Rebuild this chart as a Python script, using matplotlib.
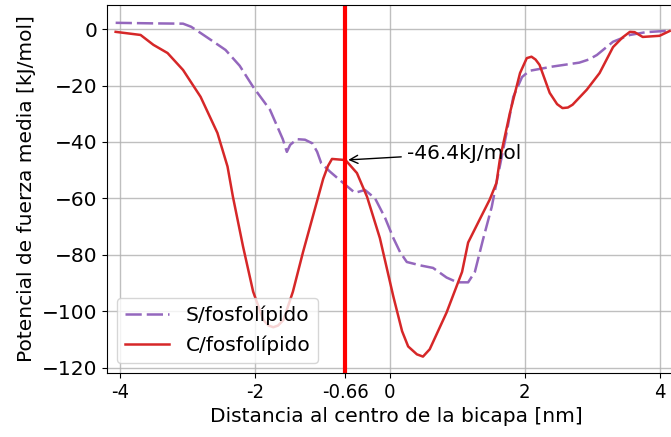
import matplotlib
matplotlib.use("Agg")
import matplotlib.pyplot as plt

# Potential of mean force profiles across the bilayer
x_s = [-4.07, -3.5, -3.07, -2.95, -2.81, -2.63, -2.44, -2.23, -2.03, -1.78, -1.59, -1.53,
       -1.48, -1.38, -1.26, -1.15, -1.08, -1.02, -0.89, -0.67, -0.52, -0.37, -0.22,
       -0.07, 0.05, 0.15, 0.25, 0.47, 0.64, 0.84, 1.0, 1.16, 1.26, 1.38, 1.51, 1.58,
       1.73, 1.83, 1.96, 2.07, 2.41, 2.81, 2.95, 3.07, 3.31, 3.56, 3.8, 4.15]
y_s = [2.2, 2.0, 1.9, 0.8, -1.4, -4.3, -7.4, -13.0, -20.5, -28.6, -39.0, -43.5,
       -41.0, -39.0, -39.2, -40.5, -43.5, -47.5, -50.5, -55.0, -58.0, -57.0, -60.0,
       -67.0, -74.0, -79.0, -82.5, -83.8, -84.6, -88.0, -89.7, -89.7, -86.0, -74.6, -63.0, -54.5,
       -36.8, -24.0, -17.0, -14.8, -13.3, -11.9, -10.8, -9.2, -4.5, -2.1, -1.1, -0.6]

x_c = [-4.07, -3.7, -3.51, -3.3, -3.07, -2.81, -2.56, -2.41, -2.33, -2.18, -2.03,
       -1.88, -1.80, -1.73, -1.66, -1.58, -1.44, -1.29, -1.14, -0.99, -0.92, -0.86,
       -0.66, -0.49, -0.34, -0.15, 0.05, 0.18, 0.27, 0.40, 0.49, 0.59, 0.84, 1.07,
       1.16, 1.33, 1.48, 1.58, 1.63, 1.78, 1.93, 2.03, 2.1, 2.16, 2.22, 2.37, 2.48,
       2.56, 2.64, 2.71, 2.92, 3.11, 3.31, 3.45, 3.56, 3.63, 3.75, 4.0, 4.15]
y_c = [-1.0, -2.1, -5.6, -8.5, -14.5, -24.0, -36.8, -48.7, -59.4, -77.0, -93.0,
       -103.0, -105.0, -105.6, -105.0, -103.0, -93.0, -79.0, -66.0, -53.0, -48.5, -46.0,
       -46.4, -51.0, -59.4, -74.0, -94.7, -107.0, -112.4, -115.2, -116.0, -113.4, -100.4, -86.0,
       -75.6, -67.5, -60.4, -54.5, -46.3, -29.7, -15.6, -10.3, -9.8, -10.8, -12.7, -22.6, -26.6,
       -28.0, -27.8, -26.8, -21.5, -15.6, -6.4, -3.0, -1.0, -1.1, -2.8, -2.4, -0.7]

label_s = "S/fosfolípido"
label_c = "C/fosfolípido"

x_mark = -0.66
y_mark = -46.4
xtick_vals = [-4, -2, -0.66, 0, 2, 4]
xtick_labels = ["-4", "-2", "-0.66", "0", "2", "4"]
ytick_vals = [0, -20, -40, -60, -80, -100, -120]

plt.rcParams["font.family"] = ["DejaVu Sans"]
plt.rcParams["font.size"] = 14.5

fig = plt.figure(figsize=(6.71, 4.37), dpi=100)
ax = fig.add_axes([0.1593, 0.1465, 0.8638, 0.842])

ax.plot(x_s, y_s, color="#9467bd", lw=1.8, dashes=(6.5, 2.0), label=label_s)
ax.plot(x_c, y_c, color="#d62728", lw=1.8, label=label_c)
ax.axvline(x_mark, color="red", lw=3)

ax.annotate(f"{y_mark}kJ/mol", xy=(x_mark, y_mark), xytext=(0.25, -44.0),
            va="center", ha="left", fontsize=14.5,
            arrowprops=dict(arrowstyle="->", color="black", lw=1.0))

ax.set_xlim(-4.2, 4.4)
ax.set_ylim(-121.8, 8.5)
ax.set_xticks(xtick_vals)
ax.set_xticklabels(xtick_labels, fontstretch="condensed")
ax.set_yticks(ytick_vals)
ax.grid(True, color="#b0b0b0", lw=1.0, alpha=0.8)
ax.set_axisbelow(True)

ax.set_xlabel("Distancia al centro de la bicapa [nm]", labelpad=4)
ax.set_ylabel("Potencial de fuerza media [kJ/mol]")
ax.legend(loc="lower left", fontsize=14.5, handlelength=2.2)

fig.savefig("out.png", dpi=100)
